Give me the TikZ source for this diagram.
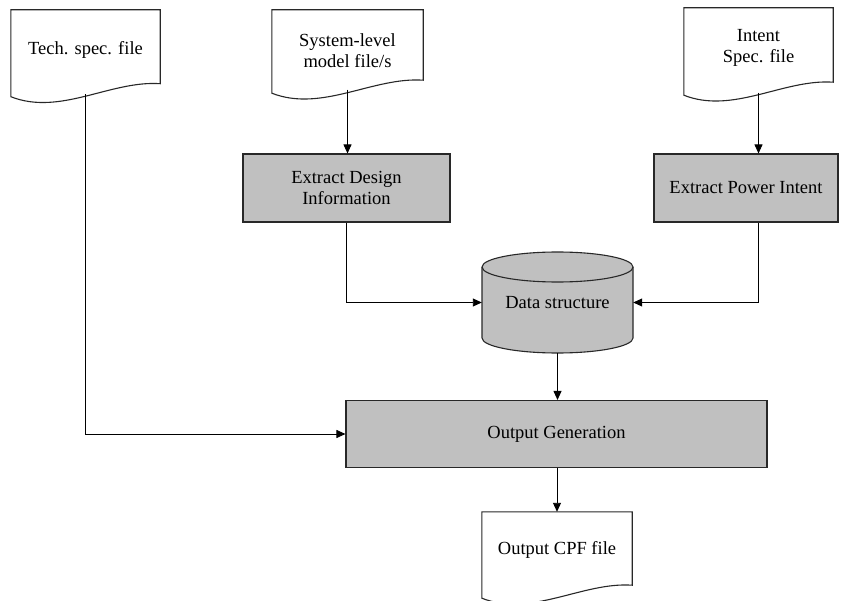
\documentclass[tikz,border=0pt]{standalone}
\usepackage{fontspec}
\setmainfont{Liberation Serif}
\usetikzlibrary{calc,arrows.meta}

\definecolor{boxgray}{RGB}{192,192,192}
\definecolor{edgegray}{RGB}{40,40,40}

\tikzset{
  lbl/.style={font=\fontsize{18.5}{21}\selectfont, align=center, text=black},
  docnode/.style={lbl, rectangle, inner sep=0pt},
  procbox/.style={lbl, rectangle, draw=edgegray, line width=1.1pt, fill=boxgray, inner sep=0pt},
  outline/.style={draw=edgegray, line width=1.1pt},
  flow/.style={draw=black, line width=0.9pt, -{Triangle[length=9pt,width=8pt]}},
  plainline/.style={draw=black, line width=0.9pt}
}

% wavy-bottom document outline around a named node
\newcommand\docframe[1]{%
  \draw[outline, fill=white]
    (#1.north west) -- (#1.north east) -- ($(#1.south east)+(0,-6.5)$)
    .. controls ($(#1.south east)!0.33!(#1.south west)+(0,-10)$)
            and ($(#1.south west)!0.33!(#1.south east)+(0,26)$)
    .. ($(#1.south west)+(0,6.5)$) -- cycle;}

\begin{document}
\begin{tikzpicture}[x=1pt,y=-1pt]
  \useasboundingbox (0,0) rectangle (853,601);

  % document nodes
  \node[docnode, minimum width=149pt, minimum height=80pt] (tech) at (85.5,50) {};
  \node[docnode, minimum width=151pt, minimum height=76.5pt] (sys) at (347.5,48.25) {};
  \node[docnode, minimum width=149pt, minimum height=80.5pt] (intent) at (758.5,48.25) {};
  \node[docnode, minimum width=150pt, minimum height=79.5pt] (cpf) at (557,551.75) {};
  \docframe{tech}
  \docframe{sys}
  \docframe{intent}
  \docframe{cpf}
  \node[lbl] at (tech.center) {Tech. spec. file};
  \node[lbl] at ($(sys.center)+(0,2)$) {System-level\\model file/s};
  \node[lbl] at (intent.center) {Intent\\Spec. file};
  \node[lbl] at ($(cpf.center)+(0,-2)$) {Output CPF file};

  % process boxes
  \node[procbox, minimum width=207pt, minimum height=68pt] (design) at (346.5,188) {Extract Design\\Information};
  \node[procbox, minimum width=184pt, minimum height=68pt] (power) at (746,188) {Extract Power Intent};
  \node[procbox, minimum width=421pt, minimum height=67pt] (gen) at (556.5,434) {Output Generation};

  % data store cylinder
  \node[rectangle, inner sep=0pt, minimum width=151pt, minimum height=101pt] (ds) at (557.5,302.5) {};
  \begin{scope}[shift={(ds.center)}]
    \draw[outline, fill=boxgray]
      (-75.5,-35.5) -- (-75.5,35.5)
      arc[start angle=180, end angle=0, x radius=75.5, y radius=15]
      -- (75.5,-35.5)
      arc[start angle=0, end angle=-180, x radius=75.5, y radius=15] -- cycle;
    \draw[outline] (-75.5,-35.5) arc[start angle=180, end angle=0, x radius=75.5, y radius=15];
  \end{scope}
  \node[lbl] at (ds.center) {Data structure};

  % connectors
  \coordinate (techturn) at (tech.south |- gen.west);
  \coordinate (dsin) at (ds.west);
  \draw[flow] ($(tech.south)+(0,4)$) -- (techturn) -- (gen.west);
  \draw[flow] ($(sys.south)+(0,3)$) -- (sys.south |- design.north);
  \draw[flow] ($(intent.south)+(0,4)$) -- (intent.south |- power.north);
  \draw[flow] (design.south) -- (design.south |- ds.west) -- (ds.west);
  \draw[flow] (intent.south |- power.south) -- (intent.south |- ds.east) -- (ds.east);
  \draw[flow] (ds.south) -- (ds.south |- gen.north);
  \draw[flow] (gen.south -| cpf.north) -- (cpf.north);
\end{tikzpicture}
\end{document}
